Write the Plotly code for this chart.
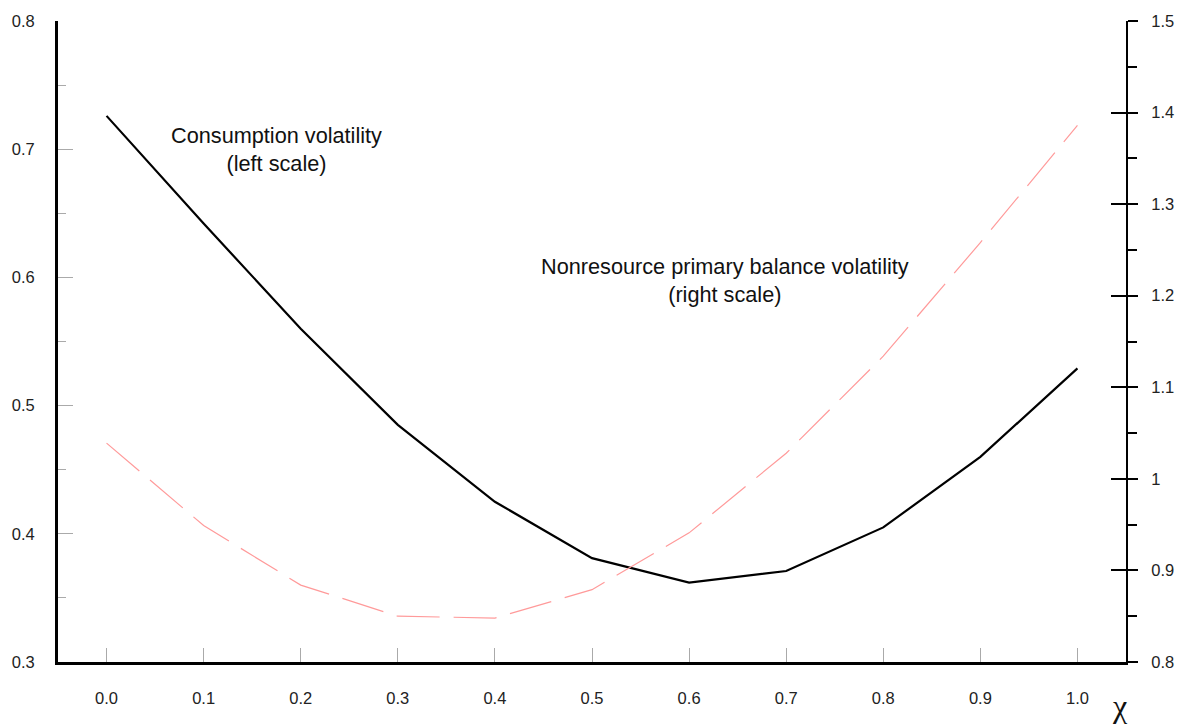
import plotly.graph_objects as go

chi = [0.0, 0.1, 0.2, 0.3, 0.4, 0.5, 0.6, 0.7, 0.8, 0.9, 1.0]
consumption_vol = [0.726, 0.642, 0.560, 0.485, 0.425, 0.381, 0.362, 0.371, 0.405, 0.460, 0.529]
balance_vol = [1.039, 0.949, 0.884, 0.850, 0.848, 0.879, 0.941, 1.028, 1.134, 1.258, 1.386]
x_ticks = [0.0, 0.1, 0.2, 0.3, 0.4, 0.5, 0.6, 0.7, 0.8, 0.9, 1.0]
left_ticks = [0.3, 0.4, 0.5, 0.6, 0.7, 0.8]
right_ticks = [0.8, 0.9, 1.0, 1.1, 1.2, 1.3, 1.4, 1.5]

FONT = "Liberation Sans, Arial, sans-serif"
TICKFONT = dict(family=FONT, size=16.5, color="#222")
fig = go.Figure()
fig.add_trace(go.Scatter(x=chi, y=consumption_vol, mode="lines",
                         line=dict(color="black", width=2.2), yaxis="y", showlegend=False))
fig.add_trace(go.Scatter(x=chi, y=balance_vol, mode="lines",
                         line=dict(color="#ff9a9a", width=1.2, dash="43px,14px"),
                         yaxis="y2", showlegend=False))
fig.add_trace(go.Scatter(x=chi, y=balance_vol, mode="lines", line=dict(width=0),
                         opacity=0, yaxis="y3", showlegend=False, hoverinfo="skip"))

fig.update_layout(
    width=1186, height=728,
    margin=dict(l=56, r=58, t=17, b=66),
    paper_bgcolor="white", plot_bgcolor="white",
    font=dict(family=FONT, size=16, color="#222"),
    xaxis=dict(range=[-0.05, 1.05], tickvals=x_ticks, tickformat=".1f", tickfont=TICKFONT,
               showgrid=False, zeroline=False, showline=True, linecolor="black", linewidth=3,
               ticks="inside", ticklen=14, tickcolor="#aaa", tickwidth=1,
               ticklabelstandoff=19),
    yaxis=dict(range=[0.3, 0.8], tickvals=left_ticks, tickformat=".1f", tickfont=TICKFONT,
               showgrid=False, zeroline=False, showline=True, linecolor="black", linewidth=3,
               ticks="inside", ticklen=15, tickcolor="#aaa", tickwidth=1,
               minor=dict(ticks="inside", ticklen=8, dtick=0.05, tickcolor="#aaa", tickwidth=1),
               ticklabelstandoff=17),
    yaxis2=dict(range=[0.8, 1.5], tickvals=right_ticks, overlaying="y", side="right",
                tickfont=TICKFONT,
                showgrid=False, zeroline=False, showline=True, linecolor="black", linewidth=2,
                ticks="outside", ticklen=10, tickcolor="black", tickwidth=2,
                minor=dict(ticks="outside", ticklen=9, dtick=0.05, tickcolor="black", tickwidth=2),
                ticklabelstandoff=10),
    yaxis3=dict(range=[0.8, 1.5], tickvals=right_ticks, overlaying="y", side="right",
                anchor="x", showgrid=False, zeroline=False, showline=False,
                ticks="inside", ticklen=15, tickcolor="black", tickwidth=2,
                showticklabels=False),
)

fig.add_annotation(x=0.175, y=0.6995, xref="x", yref="y",
                   text="Consumption volatility<br>(left scale)", showarrow=False,
                   font=dict(family=FONT, size=21.7, color="#111"), align="center")
fig.add_annotation(x=0.637, y=0.5977, xref="x", yref="y",
                   text="Nonresource primary balance volatility<br>(right scale)", showarrow=False,
                   font=dict(family=FONT, size=21.7, color="#111"), align="center")
fig.add_annotation(x=1.004, y=-0.1, xref="paper", yref="paper", text="χ", showarrow=False,
                   font=dict(family="Liberation Serif, serif", size=32, color="#111"))

fig.write_html("out.html")
